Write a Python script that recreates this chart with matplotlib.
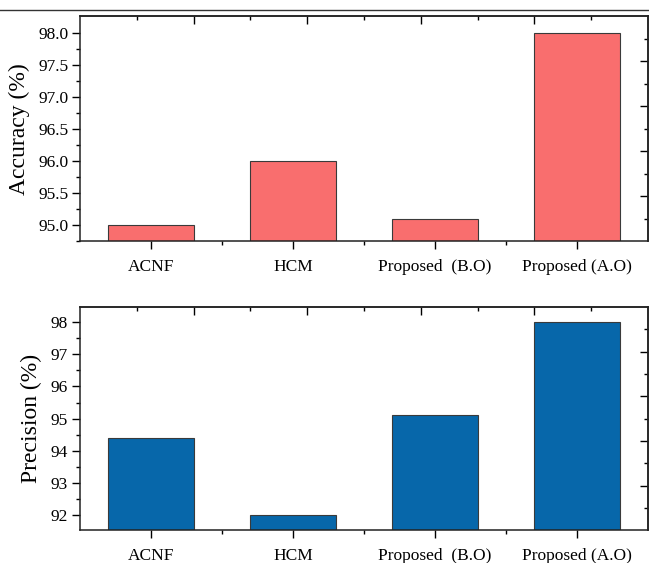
import matplotlib.pyplot as plt
from matplotlib.lines import Line2D
from matplotlib.ticker import FixedLocator, NullFormatter

plt.rcParams['font.family'] = ['Liberation Serif', 'DejaVu Serif']

# Data
methods = ["ACNF", "HCM", "Proposed  (B.O)", "Proposed (A.O)"]
accuracy = [95.0, 96.0, 95.1, 98.0]
precision = [94.4, 92.0, 95.1, 98.0]

W, H = 649, 563
fig = plt.figure(figsize=(W / 100, H / 100), dpi=100)


def px_rect(left, top, right, bottom):
    return [left / W, 1 - bottom / H, (right - left) / W, (bottom - top) / H]


def style_axis(ax, ylim, yticks, yminor, ylabel, color, values):
    x = range(len(values))
    ax.bar(x, values, width=0.6, color=color, edgecolor='#3a3a3a',
           linewidth=0.8, bottom=0)
    ax.set_xlim(-0.5, 3.5)
    ax.set_ylim(*ylim)
    ax.set_xticks(list(x))
    ax.set_xticklabels(methods, fontsize=12.5)
    ax.xaxis.set_minor_locator(FixedLocator([0.5, 1.5, 2.5]))
    ax.set_yticks(yticks)
    ax.yaxis.set_minor_locator(FixedLocator(yminor))
    ax.set_ylabel(ylabel, fontsize=17, labelpad=6)
    ax.tick_params(axis='both', which='major', direction='out', length=5.5,
                   width=1, labelsize=12.5, pad=3)
    ax.tick_params(axis='x', which='major', pad=7)
    ax.tick_params(axis='both', which='minor', direction='out', length=3,
                   width=1)
    for s in ax.spines.values():
        s.set_linewidth(1.1)
        s.set_color('#222222')

    lo, hi = ylim
    # top and right axes use their own 0-10 scale, ticks only
    top = ax.secondary_xaxis('top', functions=(lambda v: (v + 0.5) * 2.5,
                                                lambda v: v / 2.5 - 0.5))
    right = ax.secondary_yaxis('right', functions=(
        lambda v: (v - lo) / (hi - lo) * 10,
        lambda v: v / 10 * (hi - lo) + lo))
    for sec in (top, right):
        axis = sec.xaxis if sec is top else sec.yaxis
        axis.set_major_locator(FixedLocator([2, 4, 6, 8]))
        axis.set_minor_locator(FixedLocator([1, 3, 5, 7, 9]))
        axis.set_major_formatter(NullFormatter())
        sec.tick_params(which='major', direction='in', length=5.5, width=1)
        sec.tick_params(which='minor', direction='in', length=3, width=1)
        for s in sec.spines.values():
            s.set_linewidth(1.1)
            s.set_color('#222222')


ax1 = fig.add_axes(px_rect(80, 16, 648, 241.3))
style_axis(ax1, (94.75, 98.26), [95.0, 95.5, 96.0, 96.5, 97.0, 97.5, 98.0],
           [94.75, 95.25, 95.75, 96.25, 96.75, 97.25, 97.75],
           "Accuracy (%)", '#F96E6E', accuracy)
ax1.set_yticklabels([f"{v:.1f}" for v in ax1.get_yticks()])

ax2 = fig.add_axes(px_rect(80, 307, 648, 530.3))
style_axis(ax2, (91.53, 98.47), [92, 93, 94, 95, 96, 97, 98],
           [92.5, 93.5, 94.5, 95.5, 96.5, 97.5],
           "Precision (%)", '#0767AA', precision)

# thin page rule above the first panel
fig.add_artist(Line2D([0, 1], [1 - 10 / H, 1 - 10 / H], color='#333333',
                      linewidth=1.0, transform=fig.transFigure))

fig.savefig("out.png", dpi=100)
